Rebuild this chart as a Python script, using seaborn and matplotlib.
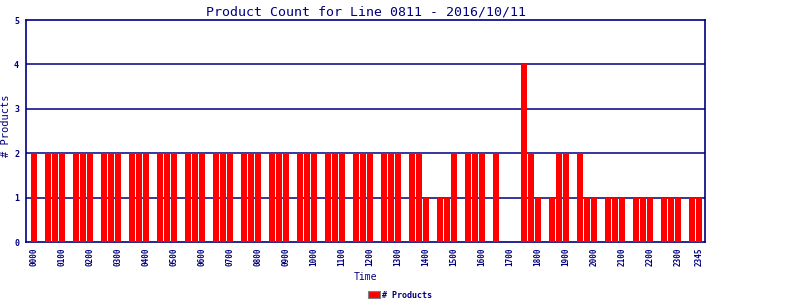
import matplotlib
matplotlib.use("Agg")
import matplotlib.pyplot as plt
import seaborn as sns
import pandas as pd

# 15-minute time slots 0000..2345
times = [f"{h:02d}{m:02d}" for h in range(24) for m in (0, 15, 30, 45)]

counts = [
    2, 0, 2, 2, 2, 0, 2, 2, 2, 0, 2, 2, 2, 0, 2, 2,   # 0000-0345
    2, 0, 2, 2, 2, 0, 2, 2, 2, 0, 2, 2, 2, 0, 2, 2,   # 0400-0745
    2, 0, 2, 2, 2, 0, 2, 2, 2, 0, 2, 2, 2, 0, 2, 2,   # 0800-1145
    2, 0, 2, 2, 2, 0, 2, 2, 1, 0, 1, 1, 2, 0, 2, 2,   # 1200-1545
    2, 0, 2, 0, 0, 0, 4, 2, 1, 0, 1, 2, 2, 0, 2, 1,   # 1600-1945
    1, 0, 1, 1, 1, 0, 1, 1, 1, 0, 1, 1, 1, 0, 1, 1,   # 2000-2345
]

tick_labels = [f"{h:02d}00" for h in range(24)] + ["2345"]

title = "Product Count for Line 0811 - 2016/10/11"
xlabel = "Time"
ylabel = "# Products"
legend_label = "# Products"

navy = "#000080"
df = pd.DataFrame({"time": times, "count": counts})

sns.set_style("white")
plt.rcParams["font.family"] = ["DejaVu Sans Mono", "DejaVu Sans"]

fig = plt.figure(figsize=(8, 3), dpi=100)
ax = fig.add_axes([26 / 800, 58 / 300, 679 / 800, 222 / 300])

sns.barplot(data=df, x="time", y="count", order=times, color="#ff0000",
            saturation=1, width=0.86, linewidth=0, ax=ax, label=legend_label,
            zorder=3)

ax.set_ylim(0, 5)
ax.set_xlim(-1.14, 95.9)
ax.set_yticks(range(0, 6))
ax.set_yticklabels([str(i) for i in range(0, 6)], fontsize=6,
                   fontweight="bold", color=navy)
tick_pos = [times.index(t) for t in tick_labels]
ax.set_xticks(tick_pos)
ax.set_xticklabels(tick_labels, rotation=90, fontsize=5.5, fontweight="bold",
                   color=navy)
ax.tick_params(axis="y", length=0, pad=5)
ax.tick_params(axis="x", length=0, pad=4)

for y in range(1, 5):
    ax.axhline(y, color=navy, linewidth=1.1, zorder=1)

for s in ax.spines.values():
    s.set_color(navy)
    s.set_linewidth(1.2)
    s.set_visible(True)

ax.set_title(title, color=navy, fontsize=9.5, pad=3)
ax.set_xlabel(xlabel, color=navy, fontsize=7)
ax.xaxis.set_label_coords(0.5, (242 - 272) / 222)
ax.set_ylabel(ylabel, color=navy, fontsize=7.5)
ax.yaxis.set_label_coords((11 - 26) / 679, (242 - 126) / 222)

leg = ax.legend(loc="center", bbox_to_anchor=(400 / 800, 5 / 300),
                bbox_transform=fig.transFigure, frameon=False, fontsize=6,
                handlelength=1.45, handleheight=0.95, handletextpad=0.35,
                borderpad=0)
for txt in leg.get_texts():
    txt.set_color(navy)
    txt.set_fontweight("bold")
for h in leg.legend_handles:
    h.set_edgecolor("#808080")
    h.set_linewidth(0.8)

fig.savefig("out.png", dpi=100, facecolor="white")
